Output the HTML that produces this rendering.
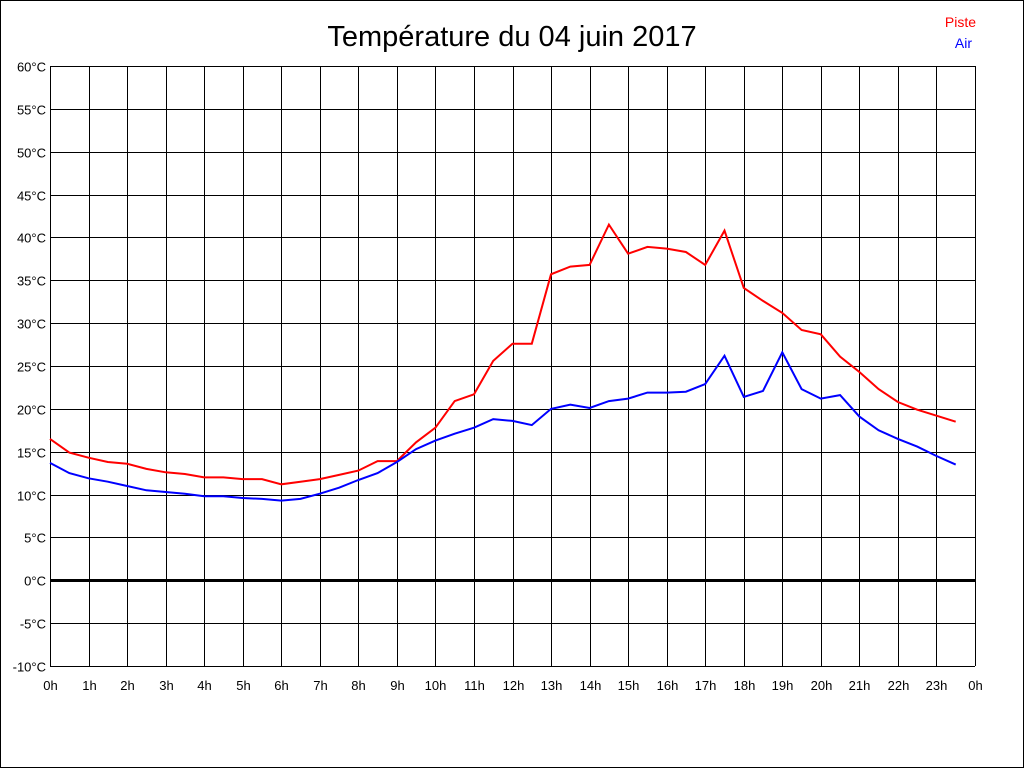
<!DOCTYPE html>
<html><head><meta charset="utf-8"><style>
html,body{margin:0;padding:0;background:#fff;}
svg{display:block;font-family:"Liberation Sans",sans-serif;}
</style></head><body>
<svg id="chart" width="1024" height="768" viewBox="0 0 1024 768">
<rect x="0.5" y="0.5" width="1023" height="767" fill="#fff" stroke="#000"/>
<text x="512" y="46" text-anchor="middle" font-size="29">Température du 04 juin 2017</text>
<text x="976" y="27" text-anchor="end" font-size="14" fill="#f00">Piste</text>
<text x="972" y="48" text-anchor="end" font-size="14" fill="#00f">Air</text>
<g id="grid"></g><g id="lines"></g><g id="labels"></g>
</svg>
<script>
const hourLabels=["0h","1h","2h","3h","4h","5h","6h","7h","8h","9h","10h","11h","12h","13h","14h","15h","16h","17h","18h","19h","20h","21h","22h","23h","0h"];
const tempTicks=[-10,-5,0,5,10,15,20,25,30,35,40,45,50,55,60];
const times=[];for(let i=0;i<48;i++)times.push(i*0.5);
const piste=[16.5,14.9,14.3,13.8,13.6,13.0,12.6,12.4,12.0,12.0,11.8,11.8,11.2,11.5,11.8,12.3,12.8,13.9,13.9,16.1,17.8,20.9,21.7,25.6,27.6,27.6,35.7,36.6,36.8,41.5,38.1,38.9,38.7,38.3,36.8,40.8,34.1,32.6,31.2,29.2,28.7,26.1,24.3,22.3,20.8,19.9,19.2,18.5];
const air=[13.7,12.5,11.9,11.5,11.0,10.5,10.3,10.1,9.8,9.8,9.6,9.5,9.3,9.5,10.1,10.8,11.7,12.5,13.8,15.3,16.3,17.1,17.8,18.8,18.6,18.1,20.0,20.5,20.1,20.9,21.2,21.9,21.9,22.0,22.9,26.2,21.4,22.1,26.6,22.3,21.2,21.6,19.1,17.5,16.5,15.6,14.5,13.5];
const X0=50,X1=975,Y0=666,Y1=66;
const xs=h=>X0+(X1-X0)*h/24;
const ys=t=>Y0-(Y0-Y1)*(t+10)/70;
const NS="http://www.w3.org/2000/svg";
const grid=document.getElementById('grid'),lines=document.getElementById('lines'),labels=document.getElementById('labels');
function mk(tag,attrs,parent){const e=document.createElementNS(NS,tag);for(const k in attrs)e.setAttribute(k,attrs[k]);parent.appendChild(e);return e;}
tempTicks.forEach(t=>{
  const y=Math.round(ys(t))+0.5;
  const l=mk('line',{x1:X0,x2:X1,y1:y,y2:y,stroke:'#000','stroke-width':t===0?3:1},grid);
  
  
  const tx=mk('text',{x:X0-4,y:y+5,'text-anchor':'end','font-size':13},labels);
  tx.textContent=t+'°C';
  
  
});
hourLabels.forEach((lab,i)=>{
  const x=Math.round(xs(i))+0.5;
  const l=mk('line',{x1:x,x2:x,y1:Y1,y2:Y0,stroke:'#000','stroke-width':1},grid);
  
  
  const tx=mk('text',{x:x,y:690,'text-anchor':'middle','font-size':13},labels);
  tx.textContent=lab;
  
  
});
function series(vals,color,name){
  const pts=vals.map((v,i)=>xs(times[i]).toFixed(1)+','+ys(v).toFixed(1)).join(' ');
  const p=mk('polyline',{points:pts,fill:'none',stroke:color,'stroke-width':2},lines);
  
  
}
series(piste,'#f00','piste-line');
series(air,'#00f','air-line');
</script>
</body></html>
